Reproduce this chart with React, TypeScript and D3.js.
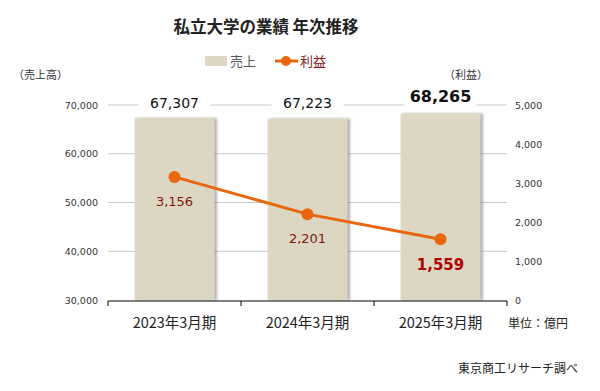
import React from "react";
import * as d3 from "d3";

const categories = ["2023年3月期", "2024年3月期", "2025年3月期"];
const sales = [67307, 67223, 68265];
const profit = [3156, 2201, 1559];
const salesTicks = [30000, 40000, 50000, 60000, 70000];
const profitTicks = [0, 1000, 2000, 3000, 4000, 5000];

const W = 600;
const H = 391;
const PLOT = { left: 108, right: 507, top: 105, bottom: 300 };

const JP = "'Noto Sans CJK JP', 'Noto Sans', sans-serif";
const NUM = "'DejaVu Sans', Verdana, sans-serif";

const BAR_FILL = "#ddd6c2";
const LINE_COLOR = "#e8670c";
const fmt = d3.format(",");

export default function App() {
  const x = d3
    .scaleBand<string>()
    .domain(categories)
    .range([PLOT.left, PLOT.right])
    .paddingInner(0.4)
    .paddingOuter(0.2);
  const band = d3.scaleBand<string>().domain(categories).range([PLOT.left, PLOT.right]);
  const yL = d3.scaleLinear().domain([30000, 70000]).range([PLOT.bottom, PLOT.top]);
  const yR = d3.scaleLinear().domain([0, 5000]).range([PLOT.bottom, PLOT.top]);

  const cx = (c: string) => (x(c) ?? 0) + x.bandwidth() / 2;
  const line = d3
    .line<number>()
    .x((_, i) => cx(categories[i]))
    .y((d) => yR(d));

  return (
    <div style={{ position: "absolute", left: 0, top: 0 }}>
      <svg width={W} height={H} style={{ background: "#fff", display: "block" }}>
        <defs>
          <filter id="shadow" x="-10%" y="-10%" width="130%" height="120%">
            <feDropShadow dx="2.5" dy="0" stdDeviation="1.2" floodColor="#777" floodOpacity="0.6" />
          </filter>
        </defs>

        {/* title */}
        <text x={266} y={33} textAnchor="middle" fontFamily={JP} fontWeight={700} fontSize={16.5} fill="#222">
          私立大学の業績 年次推移
        </text>

        {/* legend */}
        <rect x={205} y={56} width={22} height={10} fill={BAR_FILL} />
        <text x={230} y={66} fontFamily={JP} fontSize={13} fill="#555">売上</text>
        <line x1={275} x2={298} y1={61} y2={61} stroke={LINE_COLOR} strokeWidth={3} />
        <circle cx={286} cy={61} r={5} fill={LINE_COLOR} />
        <text x={300} y={66} fontFamily={JP} fontSize={13} fill="#8b1a1a">利益</text>

        {/* axis titles */}
        <text x={13} y={79} fontFamily={JP} fontSize={11} fill="#333">（売上高）</text>
        <text x={444} y={79} fontFamily={JP} fontSize={11} fill="#333">（利益）</text>

        {/* gridlines */}
        {salesTicks.slice(1).map((t) => (
          <line key={t} x1={PLOT.left} x2={PLOT.right} y1={yL(t)} y2={yL(t)} stroke="#c8c8c8" strokeWidth={1} />
        ))}

        {/* left ticks */}
        {salesTicks.map((t) => (
          <text key={t} x={98} y={yL(t) + 3.5} textAnchor="end" fontFamily={NUM} fontSize={9.5} fill="#333">
            {fmt(t)}
          </text>
        ))}
        {/* right ticks */}
        {profitTicks.map((t) => (
          <text key={t} x={515} y={yR(t) + 3.5} textAnchor="start" fontFamily={NUM} fontSize={9.5} fill="#333">
            {fmt(t)}
          </text>
        ))}

        {/* bars */}
        {categories.map((c, i) => (
          <rect
            key={c}
            x={x(c)}
            y={yL(sales[i])}
            width={x.bandwidth()}
            height={PLOT.bottom - yL(sales[i])}
            fill={BAR_FILL}
            filter="url(#shadow)"
          />
        ))}

        {/* bar value labels */}
        {categories.map((c, i) => {
          const last = i === categories.length - 1;
          const fs = last ? 16 : 14;
          const ty = last ? 102 : 108;
          return (
            <g key={c}>
              <rect x={cx(c) - 36} y={ty - fs} width={72} height={fs + 4} fill="#fff" />
              <text
                x={cx(c)}
                y={ty}
                textAnchor="middle"
                fontFamily={NUM}
                fontSize={fs}
                fontWeight={last ? 700 : 400}
                fill="#111"
              >
                {fmt(sales[i])}
              </text>
            </g>
          );
        })}

        {/* profit line */}
        <path d={line(profit) ?? ""} fill="none" stroke={LINE_COLOR} strokeWidth={3} />
        {profit.map((p, i) => (
          <circle key={i} cx={cx(categories[i])} cy={yR(p)} r={6} fill={LINE_COLOR} />
        ))}
        {profit.map((p, i) => {
          const last = i === profit.length - 1;
          return (
            <text
              key={i}
              x={cx(categories[i])}
              y={yR(p) + (last ? 31 : 29)}
              textAnchor="middle"
              fontFamily={NUM}
              fontSize={last ? 15 : 13}
              fontWeight={last ? 700 : 400}
              fill={last ? "#b00000" : "#7a1a10"}
            >
              {fmt(p)}
            </text>
          );
        })}

        {/* x axis */}
        <line x1={PLOT.left} x2={PLOT.right} y1={PLOT.bottom + 1} y2={PLOT.bottom + 1} stroke="#000" strokeWidth={1} />
        {[...categories.map((c) => band(c) ?? 0), PLOT.right].map((t, i) => (
          <line key={i} x1={t} x2={t} y1={PLOT.bottom + 1} y2={PLOT.bottom + 6} stroke="#000" strokeWidth={1} />
        ))}
        {categories.map((c) => (
          <text key={c} x={cx(c)} y={328} textAnchor="middle" fontFamily={JP} fontSize={14.5} fill="#222">
            {c}
          </text>
        ))}
        <text x={508} y={328} fontFamily={JP} fontSize={12} fill="#222">単位：億円</text>
        <text x={578} y={373} textAnchor="end" fontFamily={JP} fontSize={12} fill="#222">東京商工リサーチ調べ</text>
      </svg>
    </div>
  );
}
